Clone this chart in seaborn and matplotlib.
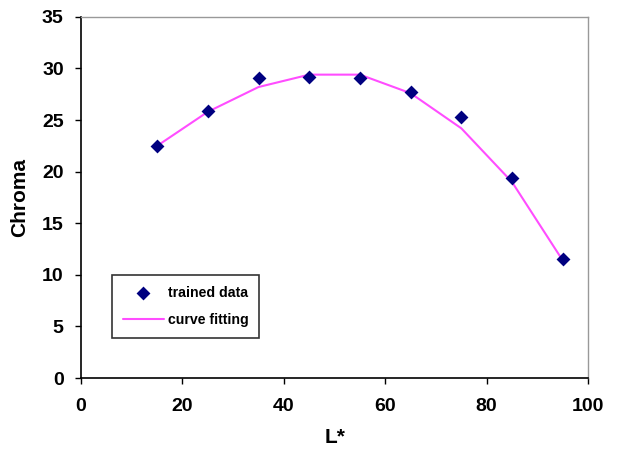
import matplotlib
matplotlib.use("Agg")
import matplotlib.pyplot as plt
import seaborn as sns
import pandas as pd

L_star = [15, 25, 35, 45, 55, 65, 75, 85, 95]
trained_chroma = [22.5, 25.9, 29.1, 29.2, 29.1, 27.7, 25.3, 19.4, 11.5]
fitted_chroma = [22.5, 25.8, 28.2, 29.4, 29.4, 27.6, 24.2, 19.0, 11.4]
x_ticks = [0, 20, 40, 60, 80, 100]
y_ticks = [0, 5, 10, 15, 20, 25, 30, 35]

sns.set_theme(style="white")
plt.rcParams['font.family'] = ['Liberation Sans', 'DejaVu Sans']
plt.rcParams.update({"text.color": "black", "axes.labelcolor": "black",
                     "xtick.color": "black", "ytick.color": "black"})

df = pd.DataFrame({"L": L_star, "trained": trained_chroma, "fit": fitted_chroma})

fig = plt.figure(figsize=(6.19, 4.55), dpi=100)
ax = fig.add_axes([0.131, 0.169, 0.819, 0.794])

sns.lineplot(data=df, x="L", y="fit", ax=ax, color="#FF4DFF", linewidth=1.5,
             label="curve fitting", zorder=2)
sns.scatterplot(data=df, x="L", y="trained", ax=ax, color="#000080", marker="D",
                s=50, edgecolor="#000080", linewidth=0, label="trained data", zorder=3)

ax.set_xlim(0, 100)
ax.set_ylim(0, 35)
ax.set_xticks(x_ticks)
ax.set_yticks(y_ticks)
ax.set_xticklabels([str(t) for t in x_ticks], fontsize=14, fontweight="bold", color="black")
ax.set_yticklabels([str(t) for t in y_ticks], fontsize=14, fontweight="bold", color="black")
ax.tick_params(axis="both", direction="out", length=4.5, width=1, color="black",
               labelcolor="black", left=True, bottom=True)
ax.tick_params(axis="x", pad=10)
ax.tick_params(axis="y", pad=8)
ax.set_xlabel("L*", fontsize=15, fontweight="bold", labelpad=9, color="black")
ax.set_ylabel("Chroma", fontsize=15, fontweight="bold", labelpad=9, color="black")

for side in ["left", "bottom"]:
    ax.spines[side].set_color("black")
    ax.spines[side].set_linewidth(1.2)
for side in ["top", "right"]:
    ax.spines[side].set_color("#999999")
    ax.spines[side].set_linewidth(1.0)

handles, labels = ax.get_legend_handles_labels()
order = [labels.index("trained data"), labels.index("curve fitting")]
leg = ax.legend([handles[i] for i in order], [labels[i] for i in order],
                loc="lower left", bbox_to_anchor=(0.061, 0.112), borderaxespad=0,
                frameon=True, fancybox=False, edgecolor="black",
                prop={"weight": "bold", "size": 10.2}, borderpad=0.75,
                labelspacing=0.95, handlelength=2.9, handletextpad=0.3,
                labelcolor="black")
leg.get_frame().set_linewidth(1.2)

fig.savefig("out.png", dpi=100)
